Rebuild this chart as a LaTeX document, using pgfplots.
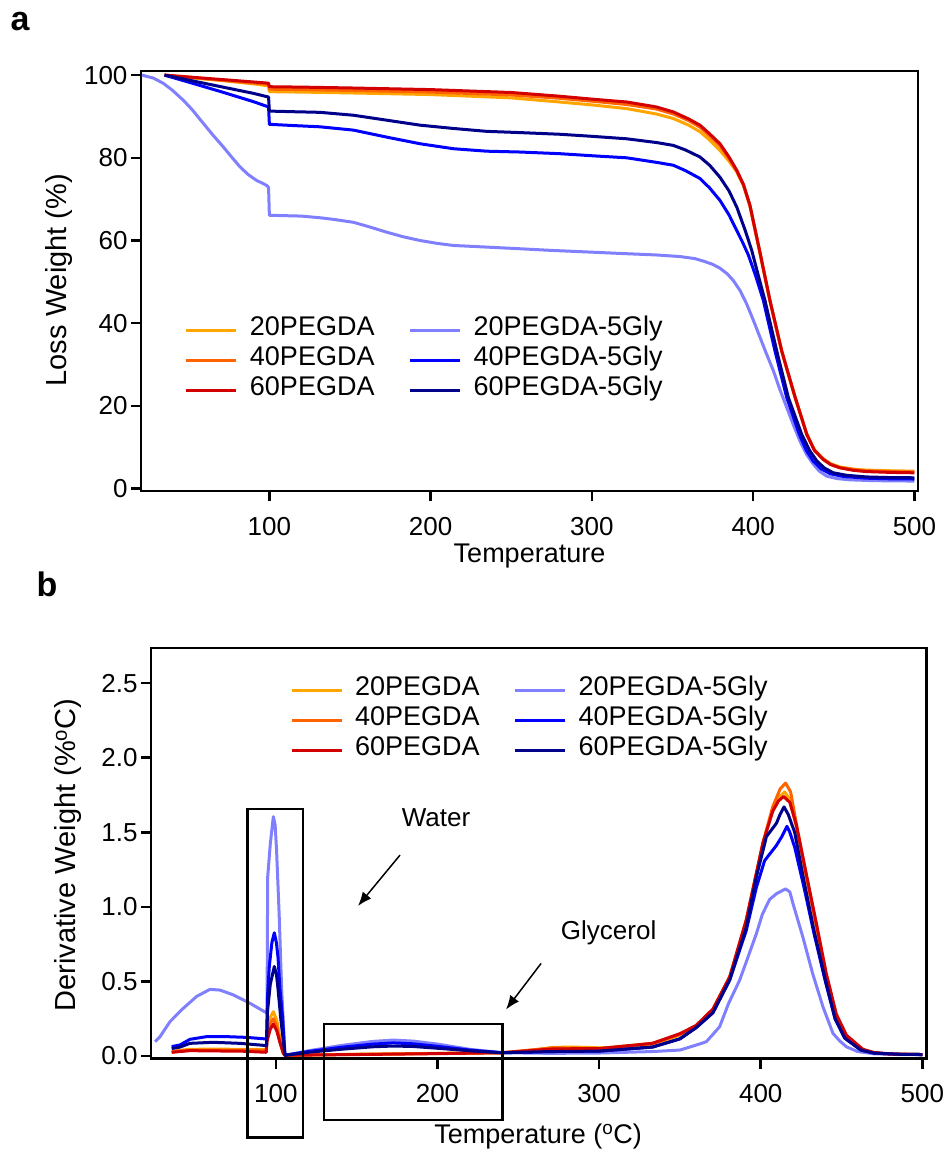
\documentclass[border=0pt]{standalone}
\usepackage{fontspec}
\setmainfont{Liberation Sans}
\usepackage{pgfplots}
\pgfplotsset{compat=1.18}
\usetikzlibrary{arrows.meta}
\definecolor{cA}{RGB}{255,165,0}
\definecolor{cB}{RGB}{255,100,0}
\definecolor{cC}{RGB}{210,0,0}
\definecolor{gA}{RGB}{128,128,255}
\definecolor{gB}{RGB}{0,0,255}
\definecolor{gC}{RGB}{0,0,139}
\pgfplotsset{tga/.style={
  scale only axis,
  axis line style={line width=2.5pt},
  tick align=outside, xtick pos=bottom, ytick pos=left,
  major tick length=10pt, tick style={line width=2.5pt, black},
  every tick label/.append style={font=\fontsize{26}{30}\selectfont},
  xticklabel style={yshift=-12.5pt},
  xlabel style={font=\fontsize{27}{30}\selectfont},
  ylabel style={font=\fontsize{29}{32}\selectfont},
  /pgf/number format/assume math mode=true,
  legend columns=2, legend cell align=left,
  legend style={draw=none, fill=none, inner sep=0pt, outer sep=0pt, anchor=north west,
    font=\fontsize{27}{30}\selectfont,
    nodes={inner sep=0pt, text height=20pt, text depth=10pt},
    /tikz/every odd column/.append style={column sep=12pt},
    /tikz/every even column/.append style={column sep=34pt}},
  legend image code/.code={\draw[#1] (0pt,0pt) -- (50pt,0pt);},
  every axis plot/.append style={line width=3pt, line join=round},
}}
\begin{document}
\begin{tikzpicture}
\path[use as bounding box] (0,0) rectangle (950pt,-1150pt);
\node[font=\fontsize{34}{40}\selectfont\bfseries] at (20pt,-22pt) {a};
\node[font=\fontsize{34}{40}\selectfont\bfseries] at (47pt,-584pt) {b};
\begin{axis}[tga,
  at={(141pt,-491pt)}, anchor=south west, width=777pt, height=420pt,
  xmin=20.4, xmax=502.2, ymin=-0.6, ymax=101,
  xtick={100,200,300,400,500}, ytick={0,20,40,60,80,100},
  xlabel={Temperature}, ylabel={Loss Weight (\%)},
  xlabel style={at={(axis description cs:0.5,-0.1714)}, anchor=base},
  ylabel style={at={(axis description cs:-0.0956,0.502)}, anchor=base, rotate=0},
  legend style={at={(0.0566,0.4174)}},
]
\addplot[cA] coordinates {(35,100) (50,99.4) (70,98.7) (90,97.9) (99.5,97.4) (100,96.0) (120,95.9) (150,95.7) (200,95.3) (250,94.5) (280,93.5) (300,92.8) (321.6,91.9) (340,90.6) (350.5,89.5) (360,87.9) (367,86.3) (373,84.3) (379.4,81.8) (385,79.2) (389.8,76.6) (394,73.3) (398,68.3) (404,57.3) (410.4,45.3) (417.7,33.1) (425.9,22.1) (433.2,13.2) (438,9.3) (443.5,7.2) (448,6.0) (453.8,5.2) (462,4.7) (470,4.45) (485,4.3) (500,4.2)};
\addlegendentry{20PEGDA}
\addplot[gA] coordinates {(21,100) (28,99.3) (34.3,98) (40,96.3) (46.7,93.9) (52,91.7) (59.1,88.3) (65,85.5) (71.5,82.6) (77,80) (81.8,77.8) (87,75.9) (92.2,74.5) (96,73.8) (98.4,73.3) (99.5,72.8) (100,66.1) (110,66.0) (120,65.9) (131.4,65.5) (140,65.1) (152.1,64.4) (162,63.3) (172.8,62) (183,60.9) (193.4,60) (204,59.3) (214.1,58.8) (234.8,58.4) (255.4,58) (275,57.6) (292.6,57.3) (321.6,56.8) (340,56.5) (355,56.1) (364,55.6) (370,54.9) (375,54.2) (379.4,53.3) (384,51.9) (387.7,50.3) (392,47.8) (396,44.6) (400,40.8) (404.2,36.6) (408,32.8) (412.5,28.5) (416.5,24) (420.8,19.6) (425,15.3) (429,11.5) (433,8.3) (437.3,5.9) (441,4.2) (445.6,3.0) (452,2.4) (460,2.1) (475,1.9) (500,1.8)};
\addlegendentry{20PEGDA-5Gly}
\addplot[cB] coordinates {(35,100) (50,99.5) (70,98.8) (90,98.1) (99.5,97.8) (100,96.6) (120,96.5) (150,96.3) (200,95.9) (250,95.2) (280,94.4) (300,93.7) (321.6,92.9) (340,91.8) (350.5,90.6) (360,89.0) (367,87.4) (373,85.3) (379.4,82.9) (385,79.8) (389.8,76.8) (394,73.4) (398,68.4) (404,57.4) (410.4,45.4) (417.7,33.2) (425.9,22.2) (433.2,13.2) (438,9.3) (443.5,7.1) (448,5.9) (453.8,5.1) (462,4.6) (470,4.3) (485,4.1) (500,4.0)};
\addlegendentry{40PEGDA}
\addplot[gB] coordinates {(35,100) (50,98.3) (70,96.0) (90,93.6) (99.5,92.3) (100,88.1) (115,87.8) (131.4,87.5) (152.1,86.7) (172.8,85.0) (193.4,83.4) (214.1,82.2) (234.8,81.6) (255.4,81.4) (280,81.0) (300,80.5) (321.6,80.0) (340,78.9) (350.5,78.2) (358,76.9) (367,75.0) (373,72.7) (379.4,69.7) (385,66.2) (389.8,62.4) (393.5,59.5) (397,56.5) (401.5,51.5) (406.3,45.5) (413.5,33.3) (420.8,22) (428.6,13.1) (433,9.2) (437.3,6.6) (442,4.8) (447.6,3.6) (456,2.9) (470,2.5) (485,2.35) (500,2.3)};
\addlegendentry{40PEGDA-5Gly}
\addplot[cC] coordinates {(35,100) (50,99.55) (70,98.95) (90,98.35) (99.5,98.05) (100,97.2) (120,97.1) (150,96.9) (200,96.5) (250,95.8) (280,94.9) (300,94.2) (321.6,93.5) (340,92.3) (350.5,91.1) (360,89.4) (367,87.9) (373,85.8) (379.4,83.4) (385,80.2) (389.8,77) (394,73.5) (398,68.5) (404,57.5) (410.4,45.5) (417.7,33.3) (425.9,22.2) (433.2,13.1) (438,9.2) (443.5,7) (448,5.8) (453.8,5) (462,4.4) (470,4.1) (485,3.9) (500,3.8)};
\addlegendentry{60PEGDA}
\addplot[gC] coordinates {(35,100) (50,98.8) (70,97.2) (90,95.6) (99.5,94.7) (100,91.3) (115,91.15) (131.4,91) (152.1,90.3) (172.8,89.1) (193.4,87.9) (214.1,87.1) (234.8,86.4) (255.4,86.1) (280,85.7) (300,85.2) (321.6,84.6) (340,83.7) (350.5,83.0) (358,81.9) (367,80.2) (373,78.2) (379.4,75.3) (385,72) (389.8,68.1) (395,62.5) (399.1,57.6) (403,51.8) (407.3,45.5) (414.6,33.3) (421.8,22) (430.1,13.1) (435,9.2) (439.4,6.7) (444,5.0) (449.7,3.8) (458,3.2) (470.4,2.8) (485,2.65) (500,2.6)};
\addlegendentry{60PEGDA-5Gly}
\end{axis}
\begin{axis}[tga,
  at={(151pt,-1058.7pt)}, anchor=south west, width=775.7pt, height=410.7pt,
  xmin=22.7, xmax=502.7, ymin=-0.018, ymax=2.735, clip=false,
  xtick={100,200,300,400,500}, ytick={0,0.5,1,1.5,2,2.5},
  yticklabel style={/pgf/number format/.cd, fixed, fixed zerofill, precision=1},
  xlabel={Temperature (\textsuperscript{o}C)}, ylabel={Derivative Weight (\%\textsuperscript{o}C)},
  xlabel style={at={(axis description cs:0.499,-0.2053)}, anchor=base},
  ylabel style={at={(axis description cs:-0.0967,0.496)}, anchor=base, rotate=0},
  legend style={at={(0.1792,0.9326)}},
]
\addplot[cA] coordinates {(35.5,0.029) (40,0.038) (46.8,0.045) (60,0.046) (80,0.045) (94,0.043) (94.5,0.15) (96.5,0.26) (98.4,0.297) (100.5,0.24) (102.5,0.12) (104.5,0.03) (105.6,0.005) (120,0.008) (150,0.012) (200,0.018) (240,0.022) (260,0.04) (271.5,0.058) (285,0.06) (300.4,0.055) (320,0.06) (333,0.08) (342,0.11) (350,0.14) (360,0.2) (370.4,0.31) (380.8,0.53) (386,0.7) (391,0.9) (396,1.15) (401.4,1.43) (407.4,1.65) (411,1.73) (414.8,1.77) (418,1.72) (422,1.54) (428.2,1.2) (434.4,0.87) (440.6,0.53) (446.8,0.26) (453,0.13) (458,0.07) (463.2,0.04) (470,0.02) (480,0.012) (500,0.01)};
\addlegendentry{20PEGDA}
\addplot[gA] coordinates {(25.2,0.096) (28.3,0.13) (34.4,0.23) (42.7,0.32) (51,0.40) (59.2,0.447) (65.4,0.442) (73.6,0.41) (84,0.353) (93,0.297) (94.5,0.29) (94.9,1.2) (96.5,1.42) (98.4,1.604) (99.5,1.55) (100.4,1.38) (102,0.95) (103.5,0.46) (105.6,0.005) (120,0.035) (140,0.07) (160,0.098) (172.6,0.107) (185,0.1) (200,0.08) (220,0.045) (240,0.022) (270,0.018) (300,0.02) (333,0.03) (350,0.04) (362,0.08) (366.3,0.096) (370,0.14) (374.6,0.197) (380,0.35) (387,0.51) (392,0.66) (397.3,0.82) (401,0.95) (405.5,1.05) (410,1.09) (415.4,1.12) (418,1.1) (420,1.02) (426,0.8) (432.2,0.55) (438.5,0.33) (444.7,0.152) (449,0.1) (453,0.062) (460,0.03) (470,0.015) (485,0.01) (500,0.008)};
\addlegendentry{20PEGDA-5Gly}
\addplot[cB] coordinates {(35.5,0.027) (46.8,0.04) (80,0.04) (94,0.038) (94.5,0.13) (96.5,0.22) (98.4,0.25) (100.5,0.2) (102.5,0.1) (104.5,0.02) (105.6,0.005) (150,0.011) (200,0.017) (240,0.022) (271.5,0.055) (300,0.05) (333,0.085) (350,0.145) (360,0.2) (370.4,0.31) (380.8,0.53) (391,0.91) (401.4,1.43) (407.4,1.67) (412,1.79) (415.4,1.83) (418.5,1.77) (422,1.56) (428.2,1.21) (434.4,0.88) (440.6,0.54) (446.8,0.27) (453,0.135) (463.2,0.042) (470,0.022) (480,0.013) (500,0.01)};
\addlegendentry{40PEGDA}
\addplot[gB] coordinates {(35.5,0.063) (40.6,0.074) (46.8,0.112) (57.1,0.13) (69.4,0.13) (81.9,0.125) (94.2,0.114) (94.8,0.4) (95.9,0.6) (97.5,0.76) (99,0.826) (100.3,0.76) (101.3,0.66) (102.5,0.45) (104.1,0.26) (105.6,0.005) (120,0.03) (140,0.058) (160,0.08) (172.6,0.088) (185,0.082) (200,0.065) (220,0.04) (240,0.022) (270,0.03) (300,0.033) (333,0.06) (350,0.115) (360,0.19) (370.4,0.29) (380.8,0.51) (391,0.84) (397.3,1.13) (402.4,1.31) (409.6,1.41) (413,1.47) (416.2,1.54) (418,1.5) (421,1.4) (427,1.12) (433,0.82) (440,0.5) (446,0.25) (452,0.12) (462,0.04) (470,0.02) (485,0.012) (500,0.01)};
\addlegendentry{40PEGDA-5Gly}
\addplot[cC] coordinates {(35.5,0.025) (46.8,0.036) (80,0.032) (94,0.025) (94.5,0.1) (96.5,0.18) (98.4,0.214) (100.5,0.17) (102.5,0.09) (104.5,0.02) (105.6,0.005) (150,0.01) (200,0.016) (240,0.022) (271.5,0.048) (300,0.05) (333,0.085) (350,0.15) (360,0.205) (370.4,0.315) (380.8,0.53) (391,0.91) (401.4,1.43) (407.4,1.64) (411,1.71) (414.2,1.74) (418,1.7) (422,1.55) (428.2,1.22) (434.4,0.89) (440.6,0.55) (446.8,0.28) (453,0.14) (463.2,0.045) (470,0.024) (480,0.014) (500,0.01)};
\addlegendentry{60PEGDA}
\addplot[gC] coordinates {(35.5,0.05) (40.6,0.06) (46.8,0.085) (61.2,0.092) (77.7,0.085) (94.2,0.07) (94.8,0.3) (96.5,0.48) (99,0.6) (100.3,0.55) (101.3,0.45) (103,0.25) (105.6,0.005) (120,0.025) (140,0.045) (160,0.062) (172.6,0.067) (185,0.064) (200,0.052) (220,0.035) (240,0.022) (270,0.03) (300,0.033) (333,0.06) (350,0.115) (360,0.19) (370.4,0.29) (380.8,0.51) (391,0.86) (397.3,1.2) (403.5,1.47) (409.7,1.56) (412,1.62) (414.4,1.67) (417,1.62) (421,1.5) (427,1.16) (433,0.84) (440,0.51) (446,0.25) (452,0.12) (462,0.04) (470,0.02) (485,0.012) (500,0.01)};
\addlegendentry{60PEGDA-5Gly}
\draw[line width=2.5pt] (axis cs:82.5,1.655) rectangle (axis cs:116.9,-0.545);
\draw[line width=2.5pt] (axis cs:129.9,0.214) rectangle (axis cs:240.2,-0.429);
\draw[line width=1.5pt, -{Latex[length=14pt,width=11pt]}] (axis cs:176.8,1.347) -- (axis cs:150.8,1.006);
\draw[line width=1.5pt, -{Latex[length=14pt,width=11pt]}] (axis cs:264.1,0.621) -- (axis cs:242.4,0.312);
\node[font=\fontsize{26}{30}\selectfont] at (axis cs:199.1,1.595) {Water};
\node[font=\fontsize{26}{30}\selectfont] at (axis cs:305.9,0.829) {Glycerol};
\end{axis}
\end{tikzpicture}
\end{document}
